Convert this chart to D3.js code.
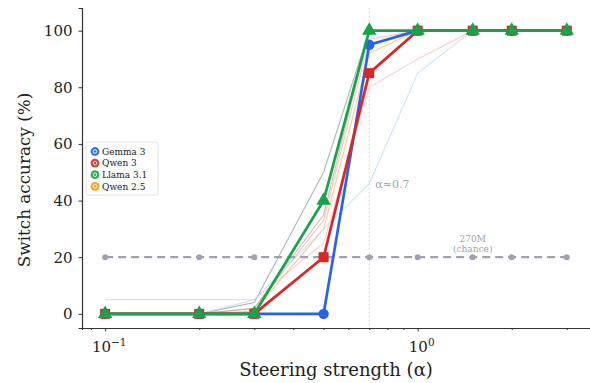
<!DOCTYPE html>
<html>
<head>
<meta charset="utf-8">
<script src="https://cdn.jsdelivr.net/npm/d3@7"></script>
<style>
  body { margin: 0; background: #fff; }
  text { font-family: "DejaVu Serif", serif; }
</style>
</head>
<body>
<div id="chart"></div>
<script>
// steering strengths
const alphas = [0.1, 0.2, 0.3, 0.5, 0.7, 1.0, 1.5, 2.0, 3.0];

// main models (switch accuracy %)
const gemma3 = [0, 0, 0, 0, 95, 100, 100, 100, 100];
const qwen3 = [0, 0, 0, 20, 85, 100, 100, 100, 100];
const llama31 = [0, 0, 0, 40, 100, 100, 100, 100, 100];

// faint background runs (other sizes)
const faintGray = [0, 0, 4, 50, 100, 100, 100, 100, 100];
const faintBrown = [0, 0, 2, 35, 100, 100, 100, 100, 100];
const faintRose = [0, 0, 2, 33, 97, 100, 100, 100, 100];
const faintOrange = [0, 0, 1, 30, 92, 100, 100, 100, 100];
const faintPink = [5, 5, 5, 25, 80, 90, 100, 100, 100];
const faintBlue = [0, 0, 5, 30, 46, 85, 100, 100, 100];

const chance = [20, 20, 20, 20, 20, 20, 20, 20, 20];

const yTicks = [0, 20, 40, 60, 80, 100];
const legendNames = ['Gemma 3', 'Qwen 3', 'Llama 3.1', 'Qwen 2.5'];
const legendColors = ['#2563eb', '#dc2626', '#16a34a', '#f59e0b'];

const width = 590, height = 383;
const margin = { top: 8, right: 0, bottom: 55, left: 82 };

const svg = d3.select('#chart').append('svg')
  .attr('width', width)
  .attr('height', height);

const x = d3.scaleLog().domain([0.0843, 3.56]).range([margin.left, width - margin.right]);
const y = d3.scaleLinear().domain([-5, 108]).range([height - margin.bottom, margin.top]);

const line = d3.line().x((d, i) => x(alphas[i])).y(d => y(d));

// faint lines
const faint = [
  { v: faintGray, c: '#9ca3af', o: 0.8 },
  { v: faintBrown, c: '#b07a6a', o: 0.5 },
  { v: faintRose, c: '#e08080', o: 0.45 },
  { v: faintOrange, c: '#f59e0b', o: 0.5 },
  { v: faintPink, c: '#fca5a5', o: 0.55 },
  { v: faintBlue, c: '#bfdbfe', o: 0.8 }
];
svg.selectAll('path.faint').data(faint).enter().append('path')
  .attr('class', 'faint')
  .attr('d', d => line(d.v))
  .attr('fill', 'none')
  .attr('stroke', d => d.c)
  .attr('stroke-opacity', d => d.o)
  .attr('stroke-width', 1.1);

// vertical alpha line
svg.append('line')
  .attr('x1', x(0.7)).attr('x2', x(0.7))
  .attr('y1', margin.top).attr('y2', height - margin.bottom)
  .attr('stroke', '#d1d5db').attr('stroke-width', 1)
  .attr('stroke-dasharray', '1.5,2.5');
svg.append('text')
  .attr('x', x(0.7) + 6).attr('y', 188)
  .attr('font-size', 11).attr('fill', '#9ca3af')
  .text('α≈0.7');

// chance line
svg.append('path')
  .attr('d', line(chance))
  .attr('fill', 'none')
  .attr('stroke', '#9ca3af')
  .attr('stroke-width', 2.2)
  .attr('stroke-dasharray', '8,5');
svg.selectAll('circle.chance').data(chance).enter().append('circle')
  .attr('cx', (d, i) => x(alphas[i])).attr('cy', d => y(d))
  .attr('r', 3).attr('fill', '#9ca3af');
svg.append('text')
  .attr('x', x(1.5)).attr('y', 242)
  .attr('text-anchor', 'middle').attr('font-size', 9).attr('fill', '#9ca3af')
  .text('270M');
svg.append('text')
  .attr('x', x(1.5)).attr('y', 252)
  .attr('text-anchor', 'middle').attr('font-size', 9).attr('fill', '#9ca3af')
  .text('(chance)');

// main lines
function drawSeries(vals, color, shape, size) {
  svg.append('path')
    .attr('d', line(vals))
    .attr('fill', 'none')
    .attr('stroke', color)
    .attr('stroke-width', 2.7)
    .attr('stroke-linejoin', 'round');
  svg.selectAll(null).data(vals).enter().append('path')
    .attr('transform', (d, i) => `translate(${x(alphas[i])},${y(d)})`)
    .attr('d', d3.symbol().type(shape).size(size))
    .attr('fill', color);
}
drawSeries(gemma3, '#2563eb', d3.symbolCircle, 85);
drawSeries(qwen3, '#dc2626', d3.symbolSquare, 100);
drawSeries(llama31, '#16a34a', d3.symbolTriangle, 90);

// axes
const xAxis = d3.axisBottom(x)
  .tickValues([0.09, 0.1, 0.2, 0.3, 0.4, 0.5, 0.6, 0.7, 0.8, 0.9, 1, 2, 3])
  .tickFormat(() => '')
  .tickSize(2);
const gx = svg.append('g')
  .attr('transform', `translate(0,${height - margin.bottom})`)
  .call(xAxis);
gx.selectAll('.tick line')
  .attr('y2', d => (d === 0.1 || d === 1) ? 3.5 : 2);
gx.select('.domain').attr('stroke', '#333').attr('stroke-width', 1.2);
gx.selectAll('.tick line').attr('stroke', '#333');

[[0.1, '−1'], [1, '0']].forEach(([v, e]) => {
  const t = svg.append('text')
    .attr('x', x(v) + 4).attr('y', 352)
    .attr('text-anchor', 'middle').attr('font-size', 15).attr('fill', '#222');
  t.append('tspan').text('10');
  t.append('tspan').attr('dy', -6).attr('font-size', 10.5).text(e);
});

const gy = svg.append('g')
  .attr('transform', `translate(${margin.left},0)`)
  .call(d3.axisLeft(y).tickValues(yTicks).tickSize(3.5).tickPadding(6));
gy.select('.domain').attr('stroke', '#333').attr('stroke-width', 1.2);
gy.selectAll('.tick line').attr('stroke', '#333');
gy.selectAll('.tick text')
  .attr('font-size', 15).attr('fill', '#222')
  .attr('font-family', '"DejaVu Serif", serif');

svg.append('text')
  .attr('x', (margin.left + width - margin.right) / 2).attr('y', 376)
  .attr('text-anchor', 'middle').attr('font-size', 18).attr('fill', '#222')
  .text('Steering strength (α)');
svg.append('text')
  .attr('transform', `translate(30,180) rotate(-90)`)
  .attr('text-anchor', 'middle').attr('font-size', 16.8).attr('fill', '#222')
  .text('Switch accuracy (%)');

// legend
const lg = svg.append('g').attr('transform', 'translate(86,142)');
lg.append('rect')
  .attr('width', 72).attr('height', 53).attr('rx', 2)
  .attr('fill', '#fff').attr('fill-opacity', 0.85)
  .attr('stroke', '#ddd').attr('stroke-width', 0.8);
const items = lg.selectAll('g.item').data(legendNames).enter().append('g')
  .attr('transform', (d, i) => `translate(9,${9.5 + i * 11.6})`);
items.append('circle').attr('r', 4.4)
  .attr('fill', (d, i) => legendColors[i]).attr('fill-opacity', 0.9);
items.append('circle').attr('r', 1.8)
  .attr('fill', 'none').attr('stroke', '#fff').attr('stroke-width', 0.9);
items.append('text')
  .attr('x', 7).attr('y', 3.2)
  .attr('font-size', 9).attr('fill', '#222')
  .text(d => d);
</script>
</body>
</html>
